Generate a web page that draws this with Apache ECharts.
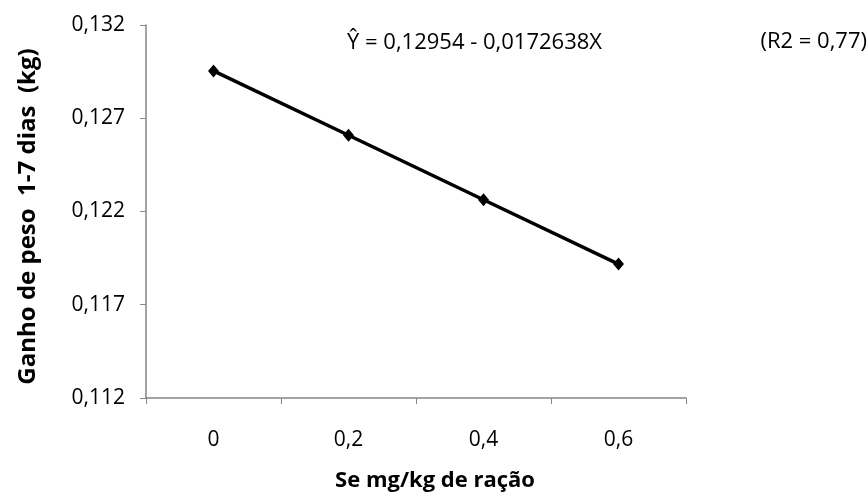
<!DOCTYPE html>
<html><head><meta charset="utf-8">
<script src="https://cdn.jsdelivr.net/npm/echarts@6/dist/echarts.min.js"></script>
<style>html,body{margin:0;padding:0;background:#fff}#c{width:868px;height:497px}</style>
</head><body><div id="c"></div>
<script>
const categories = ['0', '0,2', '0,4', '0,6'];
const values = [0.12954, 0.12609, 0.12263, 0.11918];
const yTicks = { min: 0.112, max: 0.132, interval: 0.005 };
const xTitle = 'Se mg/kg de ração';
const yTitle = 'Ganho de peso  1-7 dias  (kg)';
const equation = 'Ŷ = 0,12954 - 0,0172638X';
const r2Text = '(R2 = 0,77)';

const font = 'Open Sans';
const chart = echarts.init(document.getElementById('c'));
chart.setOption({
  animation: false,
  grid: { left: 146, top: 25, width: 540, height: 373 },
  graphic: [
    { type: 'text', x: 347, y: 42.5, style: { text: equation, font: '22px "Open Sans"', fill: '#000', textAlign: 'left', textVerticalAlign: 'middle' } },
    { type: 'text', x: 867, y: 41.5, style: { text: r2Text, font: '22px "Open Sans"', fill: '#000', textAlign: 'right', textVerticalAlign: 'middle' } },
    { type: 'text', x: 435, y: 481, style: { text: xTitle, font: 'bold 22px "Open Sans"', fill: '#000', textAlign: 'center', textVerticalAlign: 'middle' } },
    { type: 'text', x: 28, y: 216.5, rotation: Math.PI / 2, style: { text: yTitle, font: 'bold 24px "Open Sans"', fill: '#000', textAlign: 'center', textVerticalAlign: 'middle' } }
  ],
  xAxis: {
    type: 'category', data: categories, boundaryGap: true,
    axisLine: { lineStyle: { color: '#868686', width: 1.5 } },
    axisTick: { show: true, inside: false, length: 6, lineStyle: { color: '#868686' } },
    axisLabel: { fontFamily: font, fontSize: 21, color: '#000', margin: 32 },
    splitLine: { show: false }
  },
  yAxis: {
    type: 'value', min: yTicks.min, max: yTicks.max, interval: yTicks.interval,
    axisLine: { show: true, lineStyle: { color: '#868686', width: 1.5 } },
    axisTick: { show: true, inside: false, length: 6, lineStyle: { color: '#868686' } },
    axisLabel: { fontFamily: font, fontSize: 21, color: '#000', margin: 21,
      formatter: v => v.toFixed(3).replace('.', ',') },
    splitLine: { show: false }
  },
  series: [{
    type: 'line', data: values,
    lineStyle: { color: '#000', width: 3.5 },
    itemStyle: { color: '#000' },
    symbol: 'diamond', symbolSize: [11, 13], showSymbol: true
  }]
});
</script></body></html>
